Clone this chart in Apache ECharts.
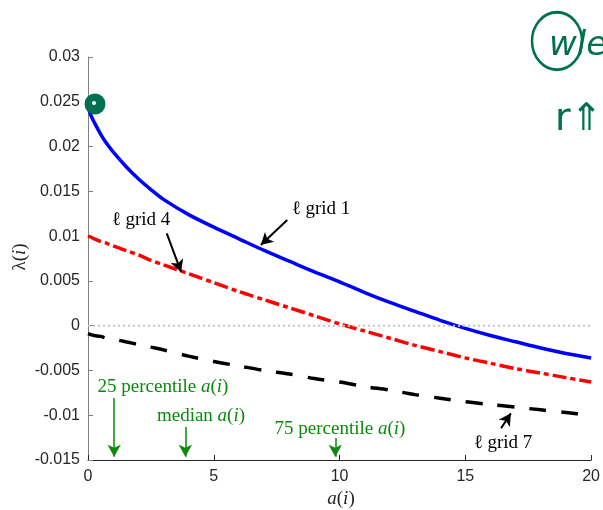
<!DOCTYPE html>
<html>
<head>
<meta charset="utf-8">
<script src="https://cdn.jsdelivr.net/npm/echarts@6/dist/echarts.min.js"></script>
<style>
  html, body { margin: 0; padding: 0; background: #fff; }
  #chart { width: 603px; height: 510px; }
</style>
</head>
<body>
<div id="chart"></div>
<script>
// a(i) sample points
const aGrid = [0, 0.1, 0.25, 0.5, 0.75, 1, 1.5, 2, 2.5, 3, 4, 5, 6, 7, 8, 9, 10, 11, 12, 13, 14, 15, 16, 17, 18, 19, 20];
// lambda(i) for l grid 1 (blue)
const grid1 = [0.0246, 0.0236, 0.0227, 0.0214, 0.0203, 0.0194, 0.0178, 0.0164, 0.0152, 0.0141, 0.0124, 0.0110, 0.0097, 0.0084, 0.0072, 0.0060, 0.0049, 0.0037, 0.0026, 0.0016, 0.0006, -0.0003, -0.0011, -0.0018, -0.0025, -0.0031, -0.0036];
// l grid 4 (red)
const grid4 = [0.0100, 0.0099, 0.0097, 0.0094, 0.0092, 0.0089, 0.0084, 0.0079, 0.0073, 0.0068, 0.0058, 0.0048, 0.0038, 0.0029, 0.0020, 0.0011, 0.0002, -0.0006, -0.0014, -0.0022, -0.0029, -0.0036, -0.0042, -0.0048, -0.0053, -0.0058, -0.0063];
// l grid 7 (black)
const grid7 = [-0.0009, -0.0010, -0.0011, -0.0012, -0.0014, -0.0015, -0.0018, -0.0021, -0.0024, -0.0027, -0.0034, -0.0040, -0.0045, -0.0050, -0.0054, -0.0059, -0.0063, -0.0068, -0.0072, -0.0077, -0.0081, -0.0085, -0.0088, -0.0091, -0.0094, -0.0097, -0.0100];
const zeroX = [0, 20];
const xTicks = ['0', '5', '10', '15', '20'];
const yTicks = ['-0.015', '-0.01', '-0.005', '0', '0.005', '0.01', '0.015', '0.02', '0.025', '0.03'];
// percentile markers of a(i)
const pctA = [1.04, 3.87, 9.83];

const pair = (xs, ys) => xs.map((x, i) => [x, ys[i]]);

const chart = echarts.init(document.getElementById('chart'));
const sans = 'Liberation Sans, Arial, sans-serif';
const serif = 'Liberation Serif, DejaVu Serif, serif';
const green = '#0a8a0a';
const pen = '#00704f';

function arrow(x1, y1, x2, y2, color, w) {
  return [
    { coord: [x1, y1], symbol: 'none', lineStyle: { color: color, width: w, type: 'solid' } },
    { coord: [x2, y2], symbol: 'arrow', symbolSize: [10, 12] }
  ];
}

function mathText(plain) {
  return '{n|' + plain + '}{it|a}{n|(}{it|i}{n|)}';
}
const richGreen = {
  n: { fontFamily: serif, fontSize: 19, fill: green },
  it: { fontFamily: serif, fontSize: 19, fontStyle: 'italic', fill: green }
};
const richDark = {
  n: { fontFamily: serif, fontSize: 19, fill: '#262626' },
  it: { fontFamily: serif, fontSize: 19, fontStyle: 'italic', fill: '#262626' }
};

chart.setOption({
  animation: false,
  grid: { left: 88, right: 9, top: 57, bottom: 50 },
  xAxis: {
    type: 'value', min: 0, max: 20, interval: 5,
    axisLine: { onZero: false, lineStyle: { color: '#262626', width: 1 } },
    axisTick: { inside: true, length: 5, lineStyle: { color: '#262626' } },
    axisLabel: {
      margin: 9, fontSize: 16, fontFamily: sans, color: '#262626',
      formatter: v => xTicks[Math.round(v / 5)]
    },
    splitLine: { show: false }
  },
  yAxis: {
    type: 'value', min: -0.015, max: 0.03, interval: 0.005,
    axisLine: { show: true, onZero: false, lineStyle: { color: '#808080', width: 1 } },
    axisTick: { show: true, inside: true, length: 5, lineStyle: { color: '#808080' } },
    axisLabel: {
      margin: 8, fontSize: 16, fontFamily: sans, color: '#262626',
      formatter: v => yTicks[Math.round((v + 0.015) / 0.005)]
    },
    splitLine: { show: false }
  },
  series: [
    {
      name: 'grid 1', type: 'line', data: pair(aGrid, grid1), showSymbol: false,
      smooth: 0.3,
      lineStyle: { color: '#0000ff', width: 3.5 }, z: 3
    },
    {
      name: 'grid 4', type: 'line', data: pair(aGrid, grid4), showSymbol: false,
      smooth: 0.3,
      lineStyle: { color: '#ff0000', width: 3.5, type: [14, 4, 5, 4] }, z: 3
    },
    {
      name: 'grid 7', type: 'line', data: pair(aGrid, grid7), showSymbol: false,
      smooth: 0.3,
      lineStyle: { color: '#000000', width: 3.5, type: [17, 15] }, z: 3
    },
    {
      name: 'zero', type: 'line', data: pair(zeroX, [0, 0]), showSymbol: false,
      lineStyle: { color: '#c4c4c4', width: 2, type: [2, 3] }, z: 4
    },
    {
      name: 'notes', type: 'line', data: [], z: 5,
      markLine: {
        silent: true,
        label: { show: false },
        data: [
          arrow(7.92, 0.0118, 6.87, 0.0090, '#000', 2),
          arrow(3.13, 0.0103, 3.70, 0.0060, '#000', 2),
          arrow(16.42, -0.01146, 16.81, -0.00979, '#000', 2),
          arrow(pctA[0], -0.00808, pctA[0], -0.01463, green, 1.5),
          arrow(pctA[1], -0.01132, pctA[1], -0.01463, green, 1.5),
          arrow(pctA[2], -0.01255, pctA[2], -0.01463, green, 1.5)
        ]
      }
    }
  ],
  graphic: [
    { type: 'text', x: 321, y: 209, style: { text: 'ℓ grid 1', font: '19px ' + serif, fill: '#000', align: 'center', verticalAlign: 'middle' } },
    { type: 'text', x: 141, y: 220, style: { text: 'ℓ grid 4', font: '19px ' + serif, fill: '#000', align: 'center', verticalAlign: 'middle' } },
    { type: 'text', x: 503, y: 443, style: { text: 'ℓ grid 7', font: '19px ' + serif, fill: '#000', align: 'center', verticalAlign: 'middle' } },
    { type: 'text', x: 163, y: 387, style: { text: mathText('25 percentile '), rich: richGreen, align: 'center', verticalAlign: 'middle' } },
    { type: 'text', x: 201, y: 416, style: { text: mathText('median '), rich: richGreen, align: 'center', verticalAlign: 'middle' } },
    { type: 'text', x: 340, y: 429, style: { text: mathText('75 percentile '), rich: richGreen, align: 'center', verticalAlign: 'middle' } },
    {
      type: 'text', x: 341, y: 499,
      style: { text: '{it|a}{n|(}{it|i}{n|)}', align: 'center', verticalAlign: 'middle', rich: richDark }
    },
    {
      type: 'text', x: 20, y: 257, rotation: Math.PI / 2,
      style: { text: '{n|λ(}{it|i}{n|)}', align: 'center', verticalAlign: 'middle', rich: richDark }
    },
    // pen scribbles on the figure
    { type: 'circle', shape: { cx: 95, cy: 104, r: 8 }, style: { fill: pen, stroke: pen, lineWidth: 5 }, z: 10 },
    { type: 'circle', shape: { cx: 94, cy: 103, r: 2 }, style: { fill: '#ffffff' }, z: 11 },
    { type: 'circle', x: 557, y: 41, scaleY: 1.15, shape: { cx: 0, cy: 0, r: 25 }, style: { fill: 'none', stroke: pen, lineWidth: 2.5 }, z: 10 },
    { type: 'text', x: 549, y: 46, style: { text: 'wle', font: 'italic 34px DejaVu Sans', fill: pen, verticalAlign: 'middle' }, z: 10 },
    { type: 'text', x: 555, y: 120, style: { text: 'r⇑E', font: '38px DejaVu Sans', fill: pen, verticalAlign: 'middle' }, z: 10 }
  ]
});
</script>
</body>
</html>
